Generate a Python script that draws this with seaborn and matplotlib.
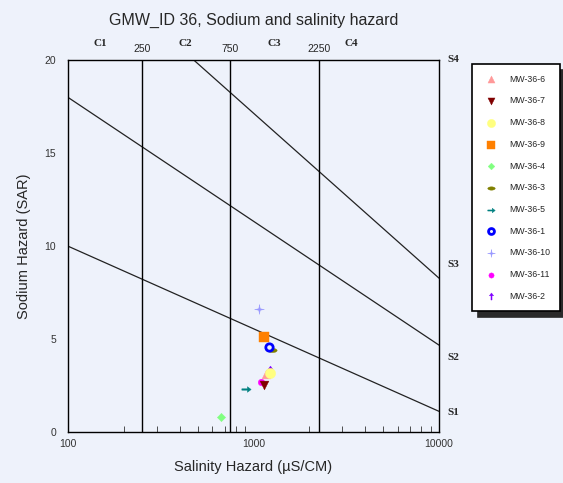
import numpy as np
import matplotlib
matplotlib.use("Agg")
import matplotlib.pyplot as plt
import seaborn as sns
from matplotlib.path import Path

# data
wells = ["MW-36-6", "MW-36-7", "MW-36-8", "MW-36-9", "MW-36-4", "MW-36-3",
         "MW-36-5", "MW-36-1", "MW-36-10", "MW-36-11", "MW-36-2"]
ec = [1164, 1144, 1233, 1135, 665, 1259, 912, 1207, 1074, 1097, 1225]
sar = [3.13, 2.55, 3.17, 5.10, 0.79, 4.39, 2.33, 4.59, 6.60, 2.70, 3.35]
colors = ["#ff9999", "#800000", "#ffff80", "#ff8000", "#80ff80", "#808000",
          "#008080", "#0000ff", "#9999ff", "#ff00ff", "#8000ff"]

# class limits
ec_limits = [250, 750, 2250]
ec_labels = ["250", "750", "2250"]
c_labels = ["C1", "C2", "C3", "C4"]
c_pos = [150, 430, 1300, 3350]
s_labels = ["S1", "S2", "S3", "S4"]
s_pos = [1.07, 4.03, 9.0, 20.0]
# SAR = a - b*log10(EC)
sar_coef = [(18.87, 4.44), (31.31, 6.66), (43.75, 8.87)]

# custom marker shapes
star4 = Path([(0, 1), (0.15, 0.15), (1, 0), (0.15, -0.15), (0, -1), (-0.15, -0.15),
              (-1, 0), (-0.15, 0.15), (0, 1)])
arrow_r = Path([(-1, 0.15), (0.2, 0.15), (0.2, 0.6), (1, 0), (0.2, -0.6), (0.2, -0.15),
                (-1, -0.15), (-1, 0.15)])
arrow_u = Path([(0.15, -1), (0.15, 0.2), (0.6, 0.2), (0, 1), (-0.6, 0.2), (-0.15, 0.2),
                (-0.15, -1), (0.15, -1)])
ellipse = Path([(np.cos(t), 0.45 * np.sin(t)) for t in np.linspace(0, 2 * np.pi, 30)])
markers = ["^", "v", "o", "s", "D", ellipse, arrow_r, "o", star4, "o", arrow_u]
sizes = [40, 40, 55, 45, 18, 45, 45, 28, 50, 22, 40]
zorders = [3, 3, 3, 3, 3, 3, 3, 3, 3, 2.9, 2.5]

bg = "#eef2fb"
sns.set_style("white")
plt.rcParams["font.family"] = ["Liberation Sans", "DejaVu Sans"]

fig = plt.figure(figsize=(5.63, 4.83), dpi=100, facecolor=bg)
ax = fig.add_axes([0.1208, 0.1056, 0.659, 0.7702])
ax.set_facecolor(bg)
ax.set_xscale("log")
ax.set_xlim(100, 10000)
ax.set_ylim(0, 20)

# hazard lines
xx = np.logspace(2, 4, 200)
for a, b in sar_coef:
    ax.plot(xx, a - b * np.log10(xx), color="#222222", lw=0.9, zorder=1)
for v in ec_limits:
    ax.axvline(v, color="black", lw=1, zorder=1)

for i in range(len(wells)):
    if i == 7:
        sns.scatterplot(x=[ec[i]], y=[sar[i]], marker="o", s=sizes[i], facecolor=bg,
                        edgecolor=colors[i], linewidth=2, label=wells[i], ax=ax,
                        zorder=zorders[i])
    else:
        sns.scatterplot(x=[ec[i]], y=[sar[i]], marker=markers[i], s=sizes[i],
                        color=colors[i], edgecolor=colors[i], linewidth=0.3,
                        label=wells[i], ax=ax, zorder=zorders[i])

ax.set_xticks([100, 1000, 10000])
ax.set_xticklabels(["100", "1000", "10000"])
ax.set_yticks([0, 5, 10, 15, 20])
ax.tick_params(axis="x", which="both", direction="in", labelsize=7.5, colors="#333333", pad=5)
ax.tick_params(axis="x", which="major", length=5)
ax.tick_params(axis="x", which="minor", length=4, bottom=True)
ax.tick_params(axis="y", direction="out", length=5, labelsize=7.5, colors="#333333")
for sp in ax.spines.values():
    sp.set_color("black")
    sp.set_linewidth(1)

ax.set_xlabel("Salinity Hazard (\u00b5S/CM)", fontsize=10.5, labelpad=8)
ax.set_ylabel("Sodium Hazard (SAR)", fontsize=10.5, labelpad=10)
fig.text(0.4503, 0.958, "GMW_ID 36, Sodium and salinity hazard", fontsize=11.5,
         ha="center", va="center")

trans = ax.get_xaxis_transform()
for lab, x in zip(c_labels, c_pos):
    ax.text(x, 1.043, lab, transform=trans, ha="center", va="center", fontsize=8,
            fontweight="bold", family="Liberation Serif")
for lab, x in zip(ec_labels, ec_limits):
    ax.text(x, 1.03, lab, transform=trans, ha="center", va="center", fontsize=7.5)
ytrans = ax.get_yaxis_transform()
for lab, y in zip(s_labels, s_pos):
    ax.text(1.022, y, lab, transform=ytrans, ha="left", va="center", fontsize=8,
            fontweight="bold", family="Liberation Serif")

handles, labels = ax.get_legend_handles_labels()
ax.legend_.remove()
leg = fig.legend(handles, labels, loc="upper left", bbox_to_anchor=(0.831, 0.876),
                 fontsize=6.3, frameon=True, fancybox=False, borderpad=1.2,
                 labelspacing=1.45, handletextpad=1.0, markerscale=0.8,
                 shadow={"ox": 4, "oy": -4, "color": "#2a2a2a", "alpha": 1})
leg.get_frame().set_edgecolor("black")
leg.get_frame().set_linewidth(1.2)
leg.get_frame().set_facecolor("white")

fig.savefig("out.png", dpi=100, facecolor=bg)
